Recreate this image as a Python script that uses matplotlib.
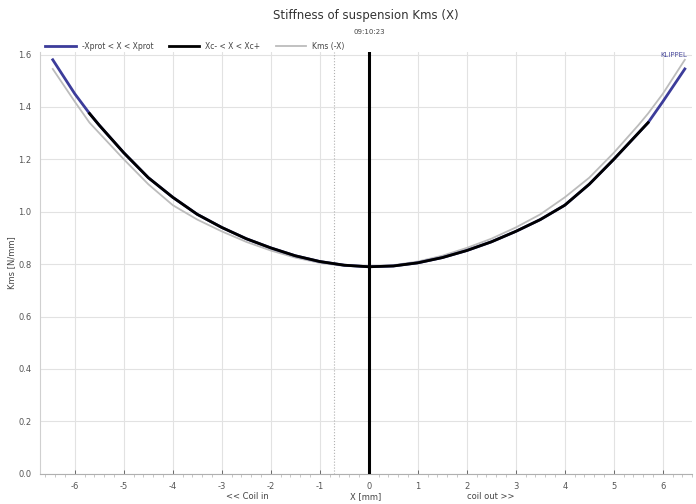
import matplotlib
matplotlib.use("Agg")
import matplotlib.pyplot as plt
from matplotlib.ticker import MultipleLocator

plt.rcParams["axes.unicode_minus"] = False

# Kms(X), mm and N/mm
x_mm = [-6.45, -6.0, -5.7, -5.5, -5.0, -4.5, -4.0, -3.5, -3.0, -2.5, -2.0, -1.5, -1.0, -0.5,
        0.0, 0.5, 1.0, 1.5, 2.0, 2.5, 3.0, 3.5, 4.0, 4.5, 5.0, 5.5, 5.7, 6.0, 6.45]
kms = [1.58, 1.45, 1.375, 1.33, 1.225, 1.13, 1.055, 0.99, 0.94, 0.897, 0.862, 0.832, 0.81, 0.796,
       0.79, 0.793, 0.805, 0.825, 0.852, 0.885, 0.925, 0.97, 1.025, 1.105, 1.2, 1.3, 1.34, 1.42, 1.545]

# Xc- < X < Xc+ range
xc_lo, xc_hi = -5.7, 5.7
x_rest = 0.0
x_dotted = -0.7

xc = [x for x in x_mm if xc_lo <= x <= xc_hi]
kc = [k for x, k in zip(x_mm, kms) if xc_lo <= x <= xc_hi]
x_mirror = [-x for x in x_mm]

fig = plt.figure(figsize=(6.96, 5.04), dpi=100)
ax = fig.add_axes([0.0575, 0.06, 0.937, 0.837])

g, = ax.plot(x_mirror, kms, color="#bcbcbc", lw=1.3, label="Kms (-X)", zorder=2)
l1, = ax.plot(x_mm, kms, color="#3c3c9a", lw=2.0, label="-Xprot < X < Xprot", zorder=3)
l2, = ax.plot(xc, kc, color="black", lw=2.0, label="Xc- < X < Xc+", zorder=4)
ax.axvline(x_rest, color="black", lw=2.2, zorder=5)
ax.axvline(x_dotted, color="#b0b0b0", lw=0.8, ls=":", zorder=1)

ax.set_xlim(-6.71, 6.6)
ax.set_ylim(0.0, 1.61)
ax.xaxis.set_major_locator(MultipleLocator(1))
ax.xaxis.set_minor_locator(MultipleLocator(0.2))
ax.yaxis.set_major_locator(MultipleLocator(0.2))
ax.yaxis.set_major_formatter(plt.FormatStrFormatter("%.1f"))
ax.grid(True, which="major", color="#e2e2e2", lw=0.8)
ax.set_axisbelow(True)

for s in ["top", "right"]:
    ax.spines[s].set_visible(False)
ax.spines["left"].set_color("#d0d0d0")
ax.spines["bottom"].set_color("#b0b0b0")
ax.tick_params(axis="both", labelsize=6, colors="#555555", length=3, width=0.6)
ax.tick_params(axis="x", which="minor", length=2, width=0.5, color="#b0b0b0")
ax.tick_params(axis="x", direction="in", pad=6)
ax.tick_params(axis="y", length=0, pad=6)

ax.set_ylabel("Kms [N/mm]", fontsize=6, color="#444444", labelpad=2)
fig.text(0.525, 0.01, "X [mm]", fontsize=6, color="#444444", ha="center")
fig.text(0.355, 0.01, "<< Coil in", fontsize=6, color="#444444", ha="center")
fig.text(0.705, 0.01, "coil out >>", fontsize=6, color="#444444", ha="center")

fig.text(0.525, 0.962, "Stiffness of suspension Kms (X)", fontsize=8.5, color="#333333", ha="center")
fig.text(0.53, 0.933, "09:10:23", fontsize=5, color="#444444", ha="center")
ax.text(6.5, 1.585, "KLIPPEL", fontsize=5, color="#5050a0", ha="right", va="bottom")

fig.legend(loc="upper left", bbox_to_anchor=(0.055, 0.93), ncol=3, frameon=False,
           fontsize=5.5, handlelength=4, columnspacing=2, labelcolor="#444444",
           handles=[l1, l2, g])

plt.savefig("out.png", dpi=100)
